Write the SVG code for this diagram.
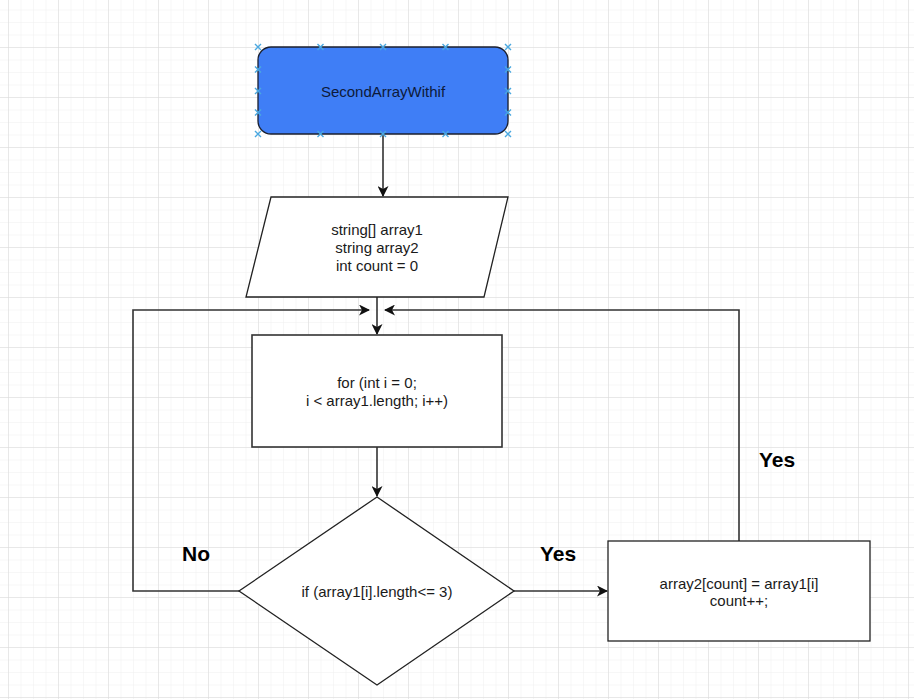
<svg xmlns="http://www.w3.org/2000/svg" width="914" height="699" viewBox="0 0 914 699">
  <defs>
    <pattern id="minorGrid" x="8" y="-3" width="12.5" height="12.5" patternUnits="userSpaceOnUse">
      <path d="M0 0 H12.5 M0 0 V12.5" fill="none" stroke="#efefef" stroke-width="1"/>
    </pattern>
    <pattern id="majorGrid" x="8" y="-3" width="50" height="50" patternUnits="userSpaceOnUse">
      <path d="M0 0 H50 M0 0 V50" fill="none" stroke="#d9d9d9" stroke-width="1"/>
    </pattern>
    <marker id="arrow" markerWidth="11" markerHeight="11" refX="10" refY="5.5" orient="auto" markerUnits="userSpaceOnUse">
      <path d="M0 0 L11 5.5 L0 11 L3 5.5 Z" fill="#111"/>
    </marker>
    <path id="handle" d="M-3 -3 L3 3 M-3 3 L3 -3" stroke="#4aa8e0" stroke-width="1.4"/>
  </defs>
  <style>
    .node { fill: #ffffff; stroke: #222; stroke-width: 1.3; }
    .txt { font-family: "Liberation Sans", Arial, sans-serif; font-size: 15px; fill: #1a1a1a; text-anchor: middle; dominant-baseline: central; }
    .lbl { font-family: "Liberation Sans", Arial, sans-serif; font-size: 21px; font-weight: bold; fill: #000; text-anchor: middle; dominant-baseline: central; }
    .edge { fill: none; stroke: #333; stroke-width: 1.6; }
  </style>

  <!-- background grid -->
  <rect width="914" height="699" fill="#ffffff"/>
  <rect width="914" height="699" fill="url(#minorGrid)"/>
  <rect width="914" height="699" fill="url(#majorGrid)"/>

  <!-- connectors -->
  <g id="connectors">
    <line class="edge" x1="383" y1="134" x2="383" y2="196" marker-end="url(#arrow)"/>
    <line class="edge" x1="377" y1="297" x2="377" y2="334" marker-end="url(#arrow)"/>
    <line class="edge" x1="377" y1="447" x2="377" y2="496" marker-end="url(#arrow)"/>
    <polyline class="edge" points="239,591 133,591 133,310 369,310" marker-end="url(#arrow)"/>
    <line class="edge" x1="514" y1="591" x2="607" y2="591" marker-end="url(#arrow)"/>
    <polyline class="edge" points="739,541 739,310 385,310" marker-end="url(#arrow)"/>
    <text class="lbl" x="196" y="553">No</text>
    <text class="lbl" x="558" y="553">Yes</text>
    <text class="lbl" x="777" y="459">Yes</text>
  </g>

  <!-- start node (selected) -->
  <g id="start">
    <rect x="258" y="47" width="250" height="87" rx="13" ry="13" fill="#3f7ef6" stroke="#1b1f2e" stroke-width="1.3"/>
    <text class="txt" x="383" y="91" style="fill:#0d1a3a">SecondArrayWithif</text>
    <use href="#handle" x="258" y="47"/>
    <use href="#handle" x="320.5" y="47"/>
    <use href="#handle" x="383" y="47"/>
    <use href="#handle" x="445.5" y="47"/>
    <use href="#handle" x="508" y="47"/>
    <use href="#handle" x="258" y="134"/>
    <use href="#handle" x="320.5" y="134"/>
    <use href="#handle" x="383" y="134"/>
    <use href="#handle" x="445.5" y="134"/>
    <use href="#handle" x="508" y="134"/>
    <use href="#handle" x="258" y="69.5"/>
    <use href="#handle" x="258" y="91"/>
    <use href="#handle" x="258" y="112.5"/>
    <use href="#handle" x="508" y="69.5"/>
    <use href="#handle" x="508" y="91"/>
    <use href="#handle" x="508" y="112.5"/>
  </g>

  <!-- input declarations -->
  <g id="declare">
    <polygon class="node" points="271,197 508,197 484,297 246,297"/>
    <text class="txt" x="377" y="229">string[] array1</text>
    <text class="txt" x="377" y="247">string array2</text>
    <text class="txt" x="377" y="265">int count = 0</text>
  </g>

  <!-- loop header -->
  <g id="loop">
    <rect class="node" x="252" y="335" width="250" height="112" style="stroke:#333;stroke-width:1.6"/>
    <text class="txt" x="377" y="382">for (int i = 0;</text>
    <text class="txt" x="377" y="400">i &lt; array1.length; i++)</text>
  </g>

  <!-- condition -->
  <g id="condition">
    <polygon class="node" points="377,497 514,591 377,685 239,591"/>
    <text class="txt" x="377" y="591">if (array1[i].length&lt;= 3)</text>
  </g>

  <!-- assignment -->
  <g id="assign">
    <rect class="node" x="608" y="541" width="262" height="100"/>
    <text class="txt" x="739" y="583">array2[count] = array1[i]</text>
    <text class="txt" x="739" y="600">count++;</text>
  </g>
</svg>
